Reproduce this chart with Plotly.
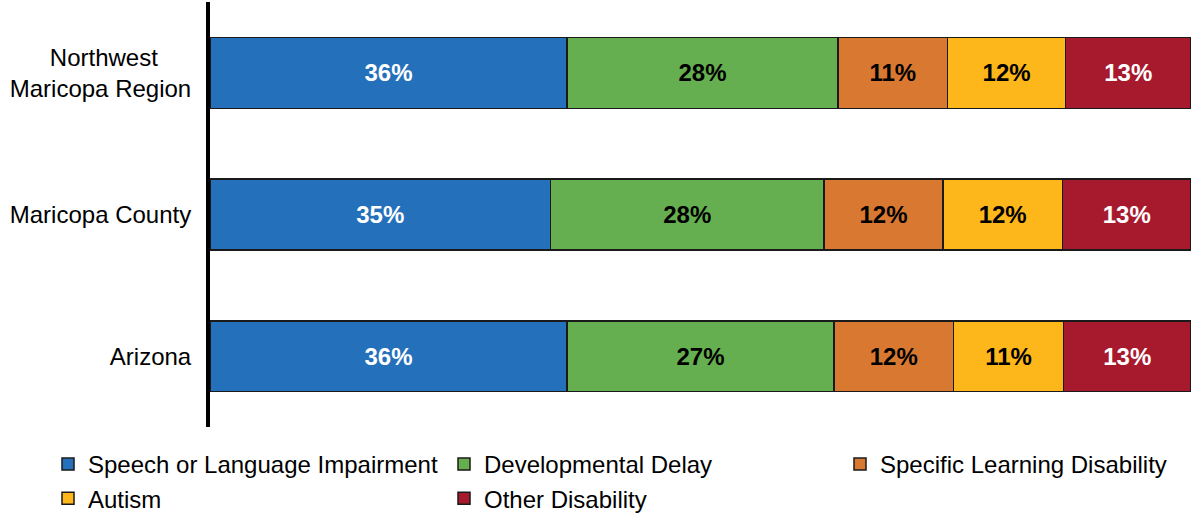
import plotly.graph_objects as go

categories = ["Northwest" + "\u00a0" * 5 + "<br>Maricopa Region", "Maricopa County", "Arizona"]
series_names = ["Speech or Language Impairment", "Developmental Delay",
                "Specific Learning Disability", "Autism", "Other Disability"]
speech = [36.4, 34.7, 36.4]
developmental = [27.6, 27.9, 27.2]
learning = [11.2, 12.1, 12.2]
autism = [12.0, 12.2, 11.2]
other = [12.8, 13.1, 13.0]

values = [speech, developmental, learning, autism, other]
colors = ["#2470BA", "#66AF50", "#D97830", "#FDB71A", "#A71A2E"]
text_colors = ["white", "black", "black", "black", "white"]

FONT = "Liberation Sans, Arial"

fig = go.Figure()
for name, vals, col, tcol in zip(series_names, values, colors, text_colors):
    fig.add_trace(go.Bar(
        y=categories, x=vals, name=name, orientation="h",
        marker=dict(color=col, line=dict(color="#1a1a1a", width=1.5)),
        texttemplate="%{x:.0f}%", textposition="inside", insidetextanchor="middle",
        textfont=dict(family=FONT, size=24, color=tcol, weight="bold"),
        textangle=0,
    ))

fig.update_layout(
    barmode="stack", bargap=0.5,
    width=1192, height=514,
    margin=dict(l=210, r=1, t=2, b=87, autoexpand=False),
    plot_bgcolor="white", paper_bgcolor="white",
    font=dict(family=FONT, size=24, color="black"),
    uniformtext=dict(mode=False),
    legend=dict(orientation="h",
                x=(48 - 210) / 981, xanchor="left", y=-(442 - 427) / 425, yanchor="top",
                entrywidth=351, entrywidthmode="pixels", traceorder="normal",
                font=dict(size=24), itemwidth=30),
    showlegend=True,
)
fig.update_xaxes(range=[0, 100], visible=False, showgrid=False)
fig.update_yaxes(autorange="reversed", showline=True, linecolor="black", linewidth=4,
                 showgrid=False, ticks="", ticklabelstandoff=10,
                 tickfont=dict(size=24, color="black"))

fig.write_html("out.html", config={"displayModeBar": False},
               post_script="document.body.style.margin='0';document.body.style.overflow='hidden';")
